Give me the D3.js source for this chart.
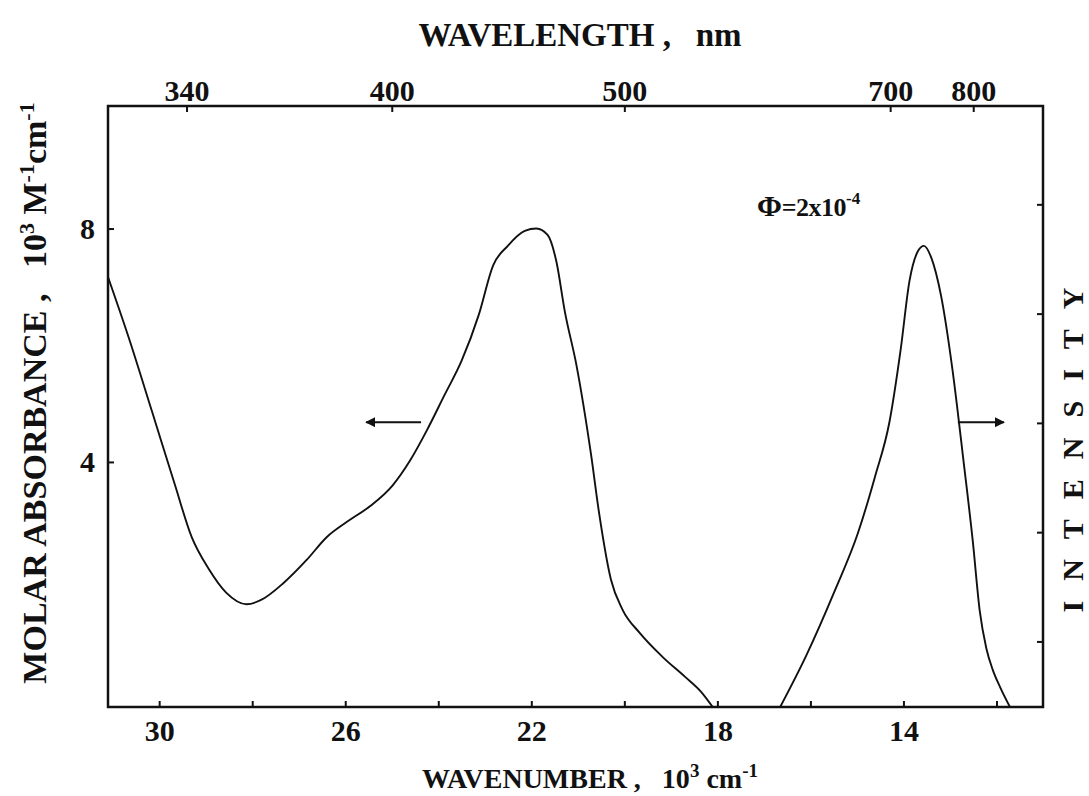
<!DOCTYPE html>
<html>
<head>
<meta charset="utf-8">
<script src="https://cdn.jsdelivr.net/npm/d3@7"></script>
<style>
body { margin:0; background:#fff; }
svg text { font-family: "Liberation Serif", "Times New Roman", serif; font-weight: bold; fill:#111; }
</style>
</head>
<body>
<div id="chart"></div>
<script>

// wavenumber ticks (10^3 cm-1), bottom axis
var bottomLabelled = [30, 26, 22, 18, 14];
var bottomMinor = [28, 24, 20, 16, 12];
// wavelength ticks (nm), top axis
var topWavelengths = [340, 400, 500, 700, 800];
// molar absorbance ticks (10^3 M-1 cm-1)
var leftTicks = [4, 8];
// intensity ticks, unlabelled
var rightTicks = [0.6, 1.6, 2.6, 3.6, 4.6];

// absorption spectrum: wavenumber, absorbance
var absWavenumber = [31.1, 30.65, 30.16, 29.67, 29.30, 28.93, 28.56, 28.12, 27.82, 27.32, 26.83, 26.40, 25.97, 25.47, 24.98, 24.61, 24.24, 23.87, 23.50, 23.13, 22.82, 22.51, 22.14, 21.89, 21.65, 21.46, 21.28, 21.03, 20.72, 20.54, 20.29, 20.04, 19.67, 19.18, 18.70, 18.35, 18.10];
var absValues     = [7.17, 6.12, 4.88, 3.63, 2.71, 2.16, 1.76, 1.56, 1.63, 1.93, 2.32, 2.71, 2.97, 3.24, 3.60, 4.02, 4.55, 5.14, 5.73, 6.52, 7.37, 7.70, 7.96, 8.00, 7.89, 7.43, 6.58, 5.66, 4.15, 3.11, 1.99, 1.47, 1.07, 0.66, 0.32, 0.06, -0.2];

// emission spectrum: wavenumber, intensity (arb.)
var emWavenumber = [16.65, 16.09, 15.48, 14.98, 14.61, 14.30, 14.06, 13.87, 13.69, 13.56, 13.40, 13.19, 12.95, 12.70, 12.51, 12.36, 12.22, 12.08, 11.92, 11.71];
var emValues     = [0.00, 0.47, 1.06, 1.59, 2.11, 2.61, 3.27, 3.90, 4.17, 4.22, 4.11, 3.76, 3.10, 2.22, 1.52, 0.88, 0.54, 0.34, 0.18, 0.00];

var width = 1089, height = 796;
// plot frame (note: "top" is reserved on window)
var plotL = 108, plotR = 1043, plotT = 106, plotB = 707;

var svg = d3.select("#chart").append("svg")
  .attr("width", width)
  .attr("height", height);

var x = d3.scaleLinear().domain([31.1, 11.0]).range([plotL, plotR]);
var yAbs = d3.scaleLinear().domain([-0.2, 10.1]).range([plotB, plotT]);
var yInt = d3.scaleLinear().domain([0, 5.5]).range([plotB, plotT]);

// bottom axis
var gb = svg.append("g").attr("transform", "translate(0," + plotB + ")")
  .call(d3.axisBottom(x).tickValues(bottomLabelled.concat(bottomMinor))
    .tickSize(-6).tickPadding(13)
    .tickFormat(function(d) { return bottomLabelled.indexOf(d) >= 0 ? d : ""; }));

// top axis, wavelength -> 10^4 / nm
var gt = svg.append("g").attr("transform", "translate(0," + plotT + ")")
  .call(d3.axisTop(x).tickValues(topWavelengths.map(function(w) { return 1e4 / w; }))
    .tickSize(-6).tickPadding(5)
    .tickFormat(function(d, i) { return topWavelengths[i]; }));

var gl = svg.append("g").attr("transform", "translate(" + plotL + ",0)")
  .call(d3.axisLeft(yAbs).tickValues(leftTicks).tickSize(-6).tickPadding(13));

var gr = svg.append("g").attr("transform", "translate(" + plotR + ",0)")
  .call(d3.axisRight(yInt).tickValues(rightTicks).tickSize(-6).tickFormat(""));

[gb, gt, gl, gr].forEach(function(g) {
  g.select(".domain").remove();
  g.selectAll("line").attr("stroke", "#111").attr("stroke-width", 2);
  g.selectAll("text").attr("font-size", 30).attr("font-family", null).attr("fill", "#111");
});

// frame
svg.append("rect")
  .attr("x", plotL).attr("y", plotT)
  .attr("width", plotR - plotL).attr("height", plotB - plotT)
  .attr("fill", "none").attr("stroke", "#111").attr("stroke-width", 2.5);

var absLine = d3.line()
  .x(function(d, i) { return x(absWavenumber[i]); })
  .y(function(d) { return yAbs(d); })
  .curve(d3.curveMonotoneX);

var emLine = d3.line()
  .x(function(d, i) { return x(emWavenumber[i]); })
  .y(function(d) { return yInt(d); })
  .curve(d3.curveMonotoneX);

svg.append("path").datum(absValues).attr("d", absLine)
  .attr("fill", "none").attr("stroke", "#111").attr("stroke-width", 1.9);
svg.append("path").datum(emValues).attr("d", emLine)
  .attr("fill", "none").attr("stroke", "#111").attr("stroke-width", 1.9);

// arrows pointing to the axis each curve belongs to
var defs = svg.append("defs");
defs.append("marker").attr("id", "head")
  .attr("viewBox", "0 0 10 10").attr("refX", 9).attr("refY", 5)
  .attr("markerWidth", 5).attr("markerHeight", 5).attr("orient", "auto")
  .append("path").attr("d", "M0,0L10,5L0,10z").attr("fill", "#111");

svg.append("line")
  .attr("x1", x(24.37)).attr("x2", x(25.55))
  .attr("y1", yAbs(4.68)).attr("y2", yAbs(4.68))
  .attr("stroke", "#111").attr("stroke-width", 2).attr("marker-end", "url(#head)");
svg.append("line")
  .attr("x1", x(12.83)).attr("x2", x(11.84))
  .attr("y1", yAbs(4.68)).attr("y2", yAbs(4.68))
  .attr("stroke", "#111").attr("stroke-width", 2).attr("marker-end", "url(#head)");

// quantum yield label
var phi = svg.append("text").attr("x", x(17.15)).attr("y", 216);
phi.append("tspan").attr("font-size", 30).text("Φ");
phi.append("tspan").attr("font-size", 26).attr("letter-spacing", "-0.5px").text("=2x10");
phi.append("tspan").attr("font-size", 17).attr("dy", -12).text("-4");

// axis titles
svg.append("text").attr("x", 580).attr("y", 46).attr("text-anchor", "middle")
  .attr("font-size", 33).attr("xml:space", "preserve")
  .text("WAVELENGTH ,   nm");

var bt = svg.append("text").attr("x", 590).attr("y", 788).attr("text-anchor", "middle")
  .attr("font-size", 28).attr("xml:space", "preserve");
bt.append("tspan").text("WAVENUMBER ,   10");
bt.append("tspan").attr("font-size", 19).attr("dy", -11).text("3");
bt.append("tspan").attr("dy", 11).text(" cm");
bt.append("tspan").attr("font-size", 19).attr("dy", -11).text("-1");

var lt = svg.append("text")
  .attr("transform", "translate(46,393) rotate(-90)")
  .attr("text-anchor", "middle").attr("font-size", 34).attr("xml:space", "preserve");
lt.append("tspan").text("MOLAR ABSORBANCE ,   10");
lt.append("tspan").attr("font-size", 22).attr("dy", -12).text("3");
lt.append("tspan").attr("dy", 12).text(" M");
lt.append("tspan").attr("font-size", 22).attr("dy", -12).text("-1");
lt.append("tspan").attr("dy", 12).text("cm");
lt.append("tspan").attr("font-size", 22).attr("dy", -12).text("-1");

svg.append("text")
  .attr("transform", "translate(1083,440) rotate(-90)")
  .attr("text-anchor", "middle").attr("font-size", 30)
  .attr("letter-spacing", "20px")
  .text("INTENSITY");

</script>
</body>
</html>
